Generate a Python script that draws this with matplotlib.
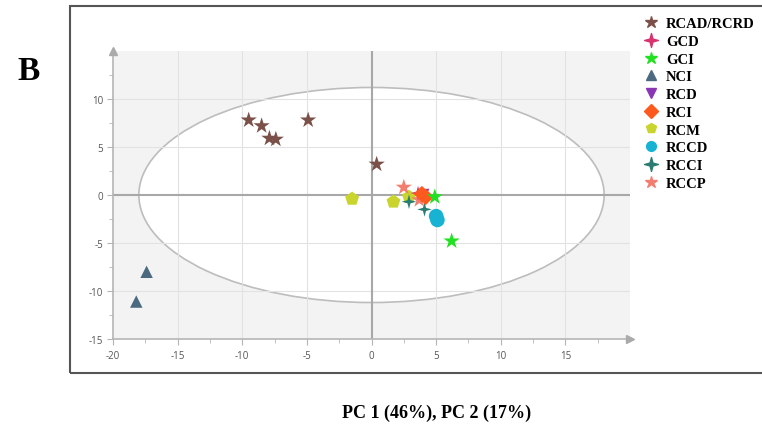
import numpy as np
import matplotlib.pyplot as plt
from matplotlib.patches import Ellipse, Rectangle
from matplotlib.path import Path

plt.rcParams["axes.unicode_minus"] = False

# PCA score plot, groups of samples
groups = ["RCAD/RCRD", "GCD", "GCI", "NCI", "RCD", "RCI", "RCM", "RCCD", "RCCI", "RCCP"]
pc1 = {
    "RCAD/RCRD": [-9.5, -8.5, -7.9, -7.4, -4.9, 0.4],
    "GCD": [3.6],
    "GCI": [4.9, 6.2],
    "NCI": [-17.4, -18.2],
    "RCD": [4.0],
    "RCI": [3.9, 4.2],
    "RCM": [-1.5, 1.7, 2.9],
    "RCCD": [5.0, 5.1],
    "RCCI": [2.9, 4.1],
    "RCCP": [2.5, 3.7],
}
pc2 = {
    "RCAD/RCRD": [7.8, 7.2, 5.9, 5.8, 7.8, 3.2],
    "GCD": [0.2],
    "GCI": [-0.2, -4.8],
    "NCI": [-8.0, -11.1],
    "RCD": [0.0],
    "RCI": [0.1, -0.2],
    "RCM": [-0.4, -0.7, -0.2],
    "RCCD": [-2.2, -2.6],
    "RCCI": [-0.7, -1.5],
    "RCCP": [0.8, -0.5],
}
colors = {
    "RCAD/RCRD": "#7b5048", "GCD": "#d8336f", "GCI": "#22e022", "NCI": "#4b6a80",
    "RCD": "#8a36b4", "RCI": "#ff5a1e", "RCM": "#c9d52c", "RCCD": "#18b2d2",
    "RCCI": "#2a7d72", "RCCP": "#f27e70",
}

# four-pointed star marker
ang = np.arange(8) * np.pi / 4 + np.pi / 2
rad = np.where(np.arange(8) % 2 == 0, 1.0, 0.3)
star4 = Path(np.column_stack([rad * np.cos(ang), rad * np.sin(ang)]).tolist()
             + [[0.0, 1.0]], closed=True)

markers = {
    "RCAD/RCRD": "*", "GCD": star4, "GCI": "*", "NCI": "^", "RCD": "v",
    "RCI": "D", "RCM": "p", "RCCD": "o", "RCCI": star4, "RCCP": "*",
}
sizes = {
    "RCAD/RCRD": 150, "GCD": 110, "GCI": 150, "NCI": 80, "RCD": 80,
    "RCI": 70, "RCM": 110, "RCCD": 110, "RCCI": 110, "RCCP": 150,
}
draw_order = ["RCAD/RCRD", "NCI", "RCM", "RCCI", "RCCP", "RCD", "GCD", "RCI", "GCI", "RCCD"]

fig = plt.figure(figsize=(7.62, 4.27), dpi=100)
fig.patches.append(Rectangle((70 / 762, 1 - 374 / 427), 1.0, (374 - 7) / 427,
                             transform=fig.transFigure, fill=False,
                             edgecolor="#555555", lw=1.5))

ax = fig.add_axes([113 / 762, 1 - 340 / 427, (630 - 113) / 762, (340 - 52) / 427])
ax.set_facecolor("#f3f3f3")
ax.set_xlim(-20, 20)
ax.set_ylim(-15, 15)

ax.add_patch(Ellipse((0, 0), 36, 22.4, facecolor="white", edgecolor="#bdbdbd",
                     lw=1.2, zorder=1))
for v in [-15, -10, -5, 5, 10, 15]:
    ax.axvline(v, color="#e2e2e2", lw=0.8, zorder=1.5)
for v in [-10, -5, 5, 10]:
    ax.axhline(v, color="#e2e2e2", lw=0.8, zorder=1.5)
ax.axvline(0, color="#a8a8a8", lw=1.5, zorder=1.6)
ax.axhline(0, color="#a8a8a8", lw=1.5, zorder=1.6)

for g in draw_order:
    ax.scatter(pc1[g], pc2[g], s=sizes[g], marker=markers[g], c=colors[g],
               edgecolors="none", zorder=3)

for s in ["top", "right"]:
    ax.spines[s].set_visible(False)
for s in ["left", "bottom"]:
    ax.spines[s].set_color("#b5b5b5")
    ax.spines[s].set_linewidth(1.2)
ax.plot([0], [1], marker="^", color="#aaaaaa", markersize=6, transform=ax.transAxes,
        clip_on=False, zorder=5)
ax.plot([1], [0], marker=">", color="#aaaaaa", markersize=6, transform=ax.transAxes,
        clip_on=False, zorder=5)

ax.set_xticks([-20, -15, -10, -5, 0, 5, 10, 15])
ax.set_yticks([-15, -10, -5, 0, 5, 10])
ax.set_xticks([-17.5, -12.5, -7.5, -2.5, 2.5, 7.5, 12.5, 17.5], minor=True)
ax.set_yticks([-12.5, -7.5, -2.5, 2.5, 7.5, 12.5], minor=True)
ax.tick_params(which="both", colors="#b5b5b5", labelcolor="#555555", labelsize=7)
ax.tick_params(axis="x", which="major", length=4, pad=4)
ax.tick_params(axis="y", which="major", length=4, pad=3)
ax.tick_params(which="minor", length=3)
for lab in ax.get_xticklabels() + ax.get_yticklabels():
    lab.set_family("Open Sans")

handles = [plt.Line2D([], [], ls="none", marker=markers[g], color=colors[g],
                      markersize=10 if g in ("GCD", "RCCI") else (9 if markers[g] == "*" else 7))
           for g in groups]
fig.legend(handles, groups, loc="upper left", bbox_to_anchor=(644 / 762, 1 - 18 / 427),
           frameon=False, handlelength=1.0, handletextpad=0.5, labelspacing=0.31,
           borderpad=0, borderaxespad=0,
           prop={"family": "Liberation Serif", "weight": "bold", "size": 10.5})

fig.text(17 / 762, 1 - 71 / 427, "B", family="Liberation Serif", weight="bold",
         fontsize=24, va="center", ha="left")
fig.text(437 / 762, 1 - 413 / 427, "PC 1 (46%), PC 2 (17%)", family="Liberation Serif",
         weight="bold", fontsize=13, va="center", ha="center")

plt.savefig("out.png", dpi=100)
